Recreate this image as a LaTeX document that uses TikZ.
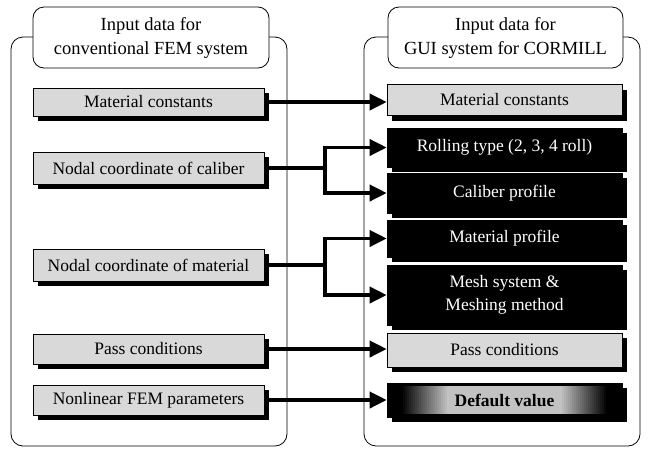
\documentclass[tikz,border=0pt]{standalone}
\usepackage{fontspec}
\setmainfont{Liberation Serif}
\usetikzlibrary{arrows.meta,shadows}
\begin{document}
\begin{tikzpicture}[x=1pt,y=-1pt,
  txt/.style={font=\fontsize{17.5}{23}\selectfont, align=center, inner sep=0pt},
  panel/.style={draw, line width=0.8pt, rounded corners=12pt, minimum width=276pt, minimum height=409pt, inner sep=0pt},
  titlebox/.style={txt, font=\fontsize{18.5}{24}\selectfont, draw, fill=white, line width=0.8pt, rounded corners=11pt, minimum height=61pt},
  shad/.style={drop shadow={shadow xshift=5pt, shadow yshift=-5pt, fill=black, opacity=1}},
  lightbox/.style={txt, draw, line width=0.6pt, fill=gray!30, shad, minimum height=#1},
  darkbox/.style={txt, draw, line width=0.6pt, fill=black, text=white, shad, minimum height=#1},
  lbox/.style={lightbox=#1, minimum width=231pt},
  rbox/.style={minimum width=235pt},
  conn/.style={line width=3.6pt, line join=miter},
  arr/.style={conn, -{Triangle[length=17pt,width=16pt]}},
  glowbox/.style={txt, draw, line width=0.6pt, fill=black, shad,
    path picture={
      \foreach \i in {0,...,23}{
        \pgfmathsetmacro\pc{100-76*\i/23}
        \pgfmathsetmacro\xa{14+2*\i}
        \pgfmathsetmacro\xb{16.6+2*\i}
        \fill[black!\pc] ([xshift=\xa pt, yshift=3pt]path picture bounding box.south west) rectangle ([xshift=\xb pt, yshift=-3pt]path picture bounding box.north west);
        \fill[black!\pc] ([xshift=-\xa pt, yshift=3pt]path picture bounding box.south east) rectangle ([xshift=-\xb pt, yshift=-3pt]path picture bounding box.north east);
      }
      \fill[black!24] ([xshift=62pt, yshift=3pt]path picture bounding box.south west) rectangle ([xshift=-62pt, yshift=-3pt]path picture bounding box.north east);
    }}
]
\useasboundingbox (0,0) rectangle (650,448);

% panels
\node[panel] (lpanel) at (149,241.5) {};
\node[panel] (rpanel) at (502,241.5) {};
\node[titlebox, minimum width=236pt] (ltitle) at (151,37.5) {Input data for\\conventional FEM system};
\node[titlebox, minimum width=235pt] (rtitle) at (505.5,37.5) {Input data for\\GUI system for CORMILL};

% branch coordinate
\coordinate (bx) at (325,0);

% left boxes
\node[lbox=28pt] (lmat) at (148.5,102) {Material constants};
\node[lbox=32pt] (lcal) at (148.5,168) {Nodal coordinate of caliber};
\node[lbox=32pt] (lmtl) at (148.5,265) {Nodal coordinate of material};
\node[lbox=30pt] (lpas) at (148.5,349) {Pass conditions};
\node[lbox=30pt] (lnon) at (148.5,400) {Nonlinear FEM parameters};

% right boxes
\node[lightbox=31pt, rbox] (rmat) at (504.5,100) {Material constants};
\node[darkbox=39pt, rbox] (rroll) at (504.5,147.5) {Rolling type (2, 3, 4 roll)};
\node[darkbox=40pt, rbox] (rcal) at (504.5,193) {Caliber profile};
\node[darkbox=37pt, rbox] (rmp) at (504.5,238.5) {Material profile};
\node[darkbox=60pt, rbox] (rmesh) at (504.5,295) {Mesh system \&\\Meshing method};
\node[lightbox=34pt, rbox] (rpas) at (504.5,350) {Pass conditions};
\node[glowbox, rbox, minimum height=34pt] (rdef) at (504.5,400) {\textbf{Default value}};

% arrows
\draw[arr] (lmat.east) -- (lmat.east -| rmat.west);
\draw[conn] (lcal.east) -- (lcal.east -| bx);
\draw[arr] (lcal.east -| bx) |- (rroll.west);
\draw[arr] (lcal.east -| bx) |- (rcal.west);
\draw[conn] (lmtl.east) -- (lmtl.east -| bx);
\draw[arr] (lmtl.east -| bx) |- (rmp.west);
\draw[arr] (lmtl.east -| bx) |- (rmesh.west);
\draw[arr] (lpas.east) -- (lpas.east -| rpas.west);
\draw[arr] (lnon.east) -- (lnon.east -| rdef.west);
\end{tikzpicture}
\end{document}
